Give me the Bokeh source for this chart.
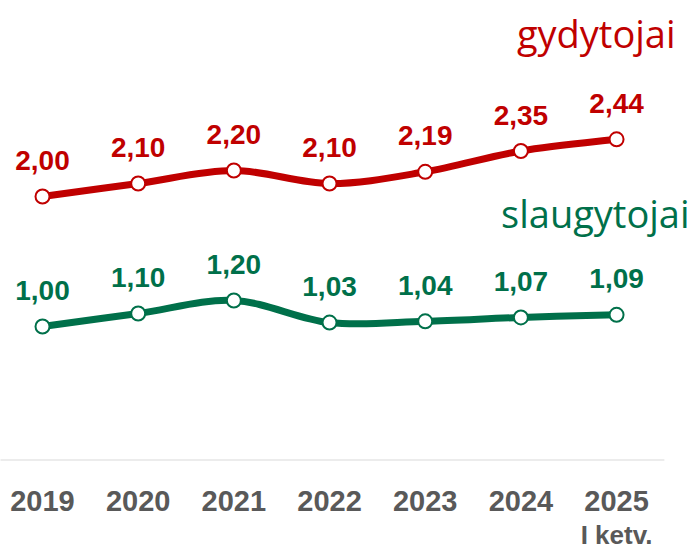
from bokeh.plotting import figure
from bokeh.models import ColumnDataSource, FixedTicker, LinearAxis, Range1d
from bokeh.core.properties import value
from bokeh.embed import file_html
from bokeh.resources import INLINE

years = ["2019", "2020", "2021", "2022", "2023", "2024", "2025"]
sub_label = "I ketv."
doctors = [2.00, 2.10, 2.20, 2.10, 2.19, 2.35, 2.44]
nurses = [1.00, 1.10, 1.20, 1.03, 1.04, 1.07, 1.09]
doctor_labels = ["2,00", "2,10", "2,20", "2,10", "2,19", "2,35", "2,44"]
nurse_labels = ["1,00", "1,10", "1,20", "1,03", "1,04", "1,07", "1,09"]
series_names = ["gydytojai", "slaugytojai"]

RED = "#C00000"
GREEN = "#00704A"
GRAY = "#595959"

xs = list(range(len(years)))
x_start, x_end = -0.439, 6.846
y_start, y_end = -0.031, 3.508

p = figure(frame_width=697, frame_height=460, output_backend="svg", toolbar_location=None,
           x_range=Range1d(x_start, x_end), y_range=Range1d(y_start, y_end),
           min_border_left=0, min_border_right=0, min_border_top=0, min_border_bottom=0,
           x_axis_location=None, y_axis_location=None)
p.outline_line_color = None
p.xgrid.visible = False
p.ygrid.visible = False
p.background_fill_color = "white"
p.border_fill_color = "white"

# baseline
p.segment(x0=[x_start - 1], y0=[y_start], x1=[len(years) - 0.5], y1=[y_start],
          line_color="#D9D9D9", line_width=2)


def smooth(xv, yv):
    n = len(xv)
    d = dict(x0=[], y0=[], x1=[], y1=[], cx0=[], cy0=[], cx1=[], cy1=[])
    for i in range(n - 1):
        xm, ym = (xv[i - 1], yv[i - 1]) if i > 0 else (xv[i], yv[i])
        xp, yp = (xv[i + 2], yv[i + 2]) if i + 2 < n else (xv[i + 1], yv[i + 1])
        d["x0"].append(xv[i]); d["y0"].append(yv[i])
        d["x1"].append(xv[i + 1]); d["y1"].append(yv[i + 1])
        d["cx0"].append(xv[i] + (xv[i + 1] - xm) / 6)
        d["cy0"].append(yv[i] + (yv[i + 1] - ym) / 6)
        d["cx1"].append(xv[i + 1] - (xp - xv[i]) / 6)
        d["cy1"].append(yv[i + 1] - (yp - yv[i]) / 6)
    return ColumnDataSource(d)


for vals, labels, color, name, lx, ly in [
    (doctors, doctor_labels, RED, series_names[0], 59, -106),
    (nurses, nurse_labels, GREEN, series_names[1], 73, -102),
]:
    p.bezier(x0="x0", y0="y0", x1="x1", y1="y1", cx0="cx0", cy0="cy0", cx1="cx1", cy1="cy1",
             source=smooth(xs, vals), line_color=color, line_width=7, line_cap="round")
    src = ColumnDataSource(dict(x=xs, y=vals, t=labels))
    p.scatter("x", "y", source=src, size=14, fill_color="white", line_color=color, line_width=2)
    p.text("x", "y", text="t", source=src, text_align="center", text_baseline="alphabetic",
           y_offset=-36, text_color=color, text_font=value("Liberation Sans"),
           text_font_style="bold", text_font_size="28px")
    p.text(x=[xs[-1]], y=[vals[-1]], text=[name], text_align="right", text_baseline="alphabetic",
           x_offset=lx, y_offset=ly, text_color=color, text_font=value("Open Sans"),
           text_font_size="38px")

ax = LinearAxis(ticker=FixedTicker(ticks=xs),
                major_label_overrides={i: y for i, y in zip(xs, years)})
ax.axis_line_color = None
ax.major_tick_line_color = None
ax.minor_tick_line_color = None
ax.major_label_standoff = 24
ax.major_label_text_font = "Liberation Sans"
ax.major_label_text_font_style = "bold"
ax.major_label_text_font_size = "29px"
ax.major_label_text_color = GRAY
p.add_layout(ax, "below")

ax2 = LinearAxis(ticker=FixedTicker(ticks=[xs[-1]]),
                 major_label_overrides={xs[-1]: sub_label})
ax2.axis_line_color = None
ax2.major_tick_line_color = None
ax2.minor_tick_line_color = None
ax2.major_label_standoff = 0
ax2.major_label_text_font = "Liberation Sans"
ax2.major_label_text_font_style = "bold"
ax2.major_label_text_font_size = "26px"
ax2.major_label_text_color = GRAY
p.add_layout(ax2, "below")

open("out.html", "w").write(file_html(p, INLINE))
